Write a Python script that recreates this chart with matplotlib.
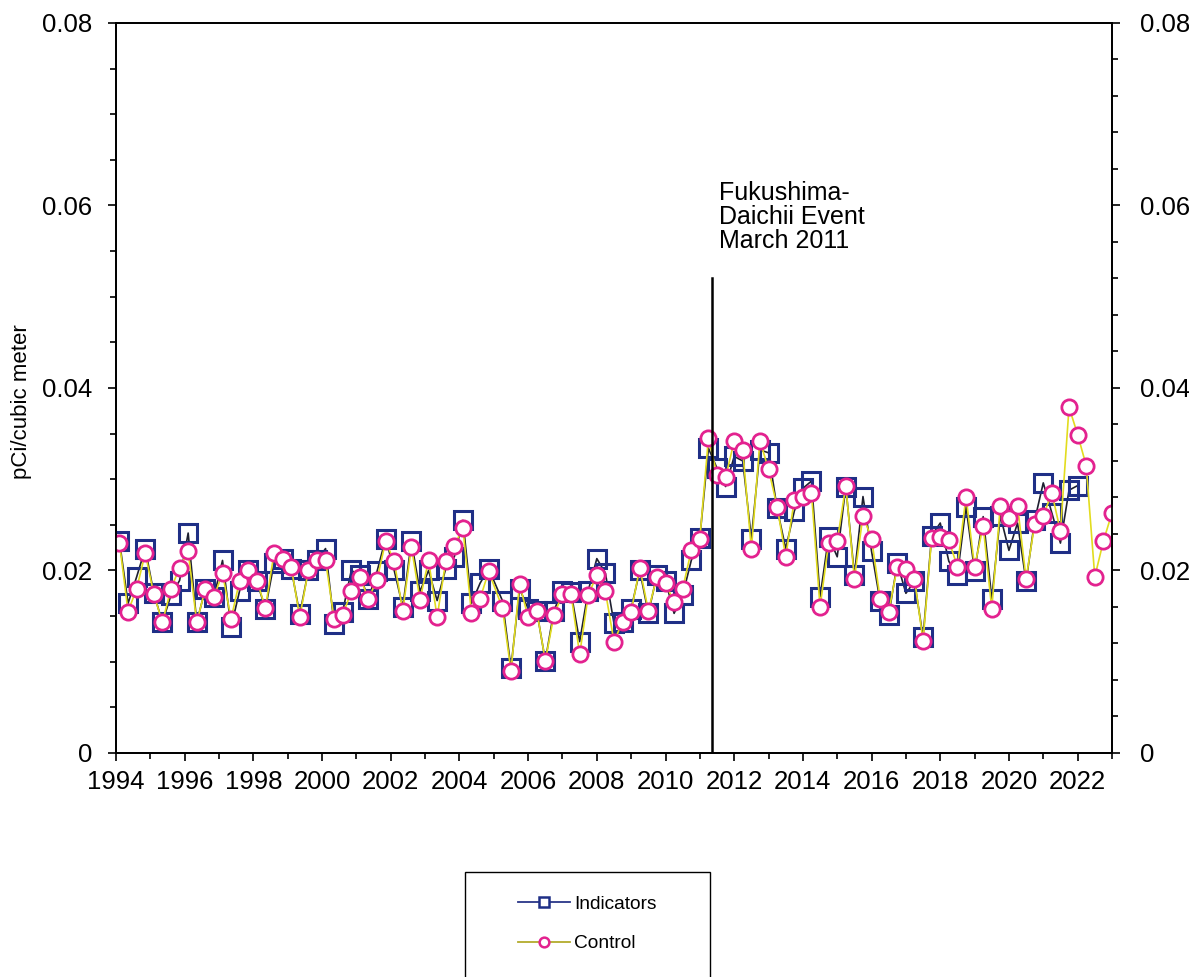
import matplotlib
matplotlib.use('Agg')
import matplotlib.pyplot as plt
from matplotlib.lines import Line2D
from matplotlib.patches import Rectangle
from matplotlib.ticker import MultipleLocator, FuncFormatter

plt.rcParams['font.family'] = ['Liberation Sans', 'DejaVu Sans']

# quarterly sample dates (decimal years)
years = [
    1994.1, 1994.35, 1994.6, 1994.85, 1995.1, 1995.35, 1995.6, 1995.85,
    1996.1, 1996.35, 1996.6, 1996.85, 1997.1, 1997.35, 1997.6, 1997.85,
    1998.1, 1998.35, 1998.6, 1998.85, 1999.1, 1999.35, 1999.6, 1999.85,
    2000.1, 2000.35, 2000.6, 2000.85, 2001.1, 2001.35, 2001.6, 2001.85,
    2002.1, 2002.35, 2002.6, 2002.85, 2003.1, 2003.35, 2003.6, 2003.85,
    2004.1, 2004.35, 2004.6, 2004.85,
    2005.25, 2005.5, 2005.75, 2006.0, 2006.25, 2006.5, 2006.75, 2007.0,
    2007.25, 2007.5, 2007.75, 2008.0, 2008.25, 2008.5, 2008.75, 2009.0,
    2009.25, 2009.5, 2009.75, 2010.0, 2010.25, 2010.5, 2010.75, 2011.0,
    2011.25, 2011.5, 2011.75, 2012.0, 2012.25, 2012.5, 2012.75, 2013.0,
    2013.25, 2013.5, 2013.75, 2014.0, 2014.25, 2014.5, 2014.75, 2015.0,
    2015.25, 2015.5, 2015.75, 2016.0, 2016.25, 2016.5, 2016.75, 2017.0,
    2017.25, 2017.5, 2017.75, 2018.0, 2018.25, 2018.5, 2018.75, 2019.0,
    2019.25, 2019.5, 2019.75, 2020.0, 2020.25, 2020.5, 2020.75, 2021.0,
    2021.25, 2021.5, 2021.75, 2022.0,
    2022.25, 2022.5, 2022.75, 2023.0,
]

indicators = [
    0.0232, 0.0164, 0.0193, 0.0224, 0.0175, 0.0143, 0.0173, 0.0189,
    0.0241, 0.0143, 0.0180, 0.0171, 0.0211, 0.0138, 0.0178, 0.0200,
    0.0188, 0.0158, 0.0208, 0.0213, 0.0202, 0.0152, 0.0200, 0.0211,
    0.0224, 0.0141, 0.0155, 0.0200, 0.0195, 0.0169, 0.0199, 0.0235,
    0.0200, 0.0160, 0.0232, 0.0177, 0.0200, 0.0167, 0.0202, 0.0215,
    0.0255, 0.0164, 0.0186, 0.0202,
    0.0167, 0.0093, 0.0180, 0.0158, 0.0156, 0.0101, 0.0156, 0.0178,
    0.0176, 0.0122, 0.0178, 0.0213, 0.0197, 0.0142, 0.0144, 0.0158,
    0.0200, 0.0153, 0.0195, 0.0189, 0.0153, 0.0173, 0.0211, 0.0236,
    0.0334, 0.0312, 0.0292, 0.0325, 0.0320, 0.0235, 0.0332, 0.0329,
    0.0268, 0.0224, 0.0265, 0.0290, 0.0298, 0.0171, 0.0237, 0.0215,
    0.0292, 0.0195, 0.0281, 0.0221, 0.0166, 0.0151, 0.0208, 0.0175,
    0.0188, 0.0127, 0.0238, 0.0252, 0.0210, 0.0195, 0.0270, 0.0199,
    0.0259, 0.0169, 0.0260, 0.0222, 0.0252, 0.0188, 0.0255, 0.0296,
    0.0263, 0.0230, 0.0288, 0.0293,
]

control = [
    0.0230, 0.0155, 0.0180, 0.0219, 0.0174, 0.0143, 0.0180, 0.0203,
    0.0221, 0.0143, 0.0180, 0.0171, 0.0197, 0.0147, 0.0189, 0.0200,
    0.0189, 0.0159, 0.0219, 0.0213, 0.0204, 0.0149, 0.0200, 0.0211,
    0.0211, 0.0147, 0.0151, 0.0177, 0.0193, 0.0169, 0.0190, 0.0232,
    0.0210, 0.0156, 0.0226, 0.0168, 0.0211, 0.0149, 0.0210, 0.0227,
    0.0247, 0.0153, 0.0169, 0.0199,
    0.0159, 0.0090, 0.0185, 0.0149, 0.0156, 0.0101, 0.0151, 0.0174,
    0.0174, 0.0108, 0.0173, 0.0195, 0.0177, 0.0122, 0.0144, 0.0155,
    0.0203, 0.0156, 0.0193, 0.0186, 0.0165, 0.0180, 0.0222, 0.0235,
    0.0345, 0.0305, 0.0302, 0.0342, 0.0332, 0.0223, 0.0342, 0.0311,
    0.0270, 0.0215, 0.0277, 0.0281, 0.0285, 0.0160, 0.0230, 0.0232,
    0.0293, 0.0191, 0.0260, 0.0235, 0.0169, 0.0155, 0.0204, 0.0202,
    0.0191, 0.0123, 0.0236, 0.0237, 0.0233, 0.0204, 0.0281, 0.0204,
    0.0249, 0.0158, 0.0271, 0.0257, 0.0271, 0.0191, 0.0251, 0.0260,
    0.0285, 0.0243, 0.0379, 0.0349,
    0.0315, 0.0193, 0.0232, 0.0263,
]

year_ticks = list(range(1994, 2023, 2))
event_year = 2011.35
event_top = 0.052
event_label = 'Fukushima-\nDaichii Event\nMarch 2011'

ind_color = '#1f2f86'
ctl_color = '#e3228f'


def fmt(v, pos):
    return '0' if abs(v) < 1e-9 else '%.2f' % v


fig = plt.figure(figsize=(11.89, 9.77), dpi=100)
ax = fig.add_axes([0.0976, 0.2293, 0.8376, 0.7472])

ax.plot(years[:len(indicators)], indicators, color='#1e2030', lw=1.2,
        marker='s', ms=13, mfc='none', mec=ind_color, mew=2.2, zorder=3)
ax.plot(years, control, color='#e2dc1e', lw=1.2,
        marker='o', ms=11, mfc='white', mec=ctl_color, mew=2.0, zorder=4)

ax.plot([event_year, event_year], [0, event_top], color='black', lw=1.8,
        zorder=5)
ax.text(2011.55, 0.0627, event_label, fontsize=18, va='top', ha='left',
        linespacing=1.0)

ax.set_xlim(1994, 2023)
ax.set_ylim(0, 0.08)
ax.set_xticks(year_ticks)
ax.xaxis.set_minor_locator(MultipleLocator(1))
ax.yaxis.set_major_locator(MultipleLocator(0.02))
ax.yaxis.set_minor_locator(MultipleLocator(0.005))
ax.yaxis.set_major_formatter(FuncFormatter(fmt))
ax.tick_params(which='both', direction='out', labelsize=18.5, width=1.2)
ax.tick_params(which='major', length=6)
ax.tick_params(which='minor', length=4)
ax.tick_params(axis='y', pad=11)
ax.tick_params(axis='x', pad=6)

ax2 = ax.twinx()
ax2.set_ylim(0, 0.08)
ax2.yaxis.set_major_locator(MultipleLocator(0.02))
ax2.yaxis.set_minor_locator(MultipleLocator(0.004))
ax2.yaxis.set_major_formatter(FuncFormatter(fmt))
ax2.tick_params(which='both', direction='out', labelsize=18.5, width=1.2,
                pad=14)
ax2.tick_params(which='major', length=6)
ax2.tick_params(which='minor', length=4)

for a in (ax, ax2):
    for s in a.spines.values():
        s.set_linewidth(1.3)

fig.text(22 / 1189, 1 - 402 / 977, 'pCi/cubic meter', rotation=90,
         fontsize=16, ha='center', va='center')

handles = [
    Line2D([], [], color='#2a3688', lw=1.3, marker='s', ms=7, mfc='white',
           mec=ind_color, mew=1.8),
    Line2D([], [], color='#b3ab2c', lw=1.3, marker='o', ms=7, mfc='white',
           mec=ctl_color, mew=1.8),
]
fig.legend(handles, ['Indicators', 'Control'], loc='upper left',
           bbox_to_anchor=(0.4215, 0.1012), frameon=False, fontsize=13.8,
           handlelength=2.7, handletextpad=0.2, labelspacing=1.15)
fig.add_artist(Rectangle((465 / 1189, -0.05), 245 / 1189, 0.1575,
                         transform=fig.transFigure, fill=False,
                         ec='black', lw=1.0))

fig.savefig('out.png', dpi=100)
